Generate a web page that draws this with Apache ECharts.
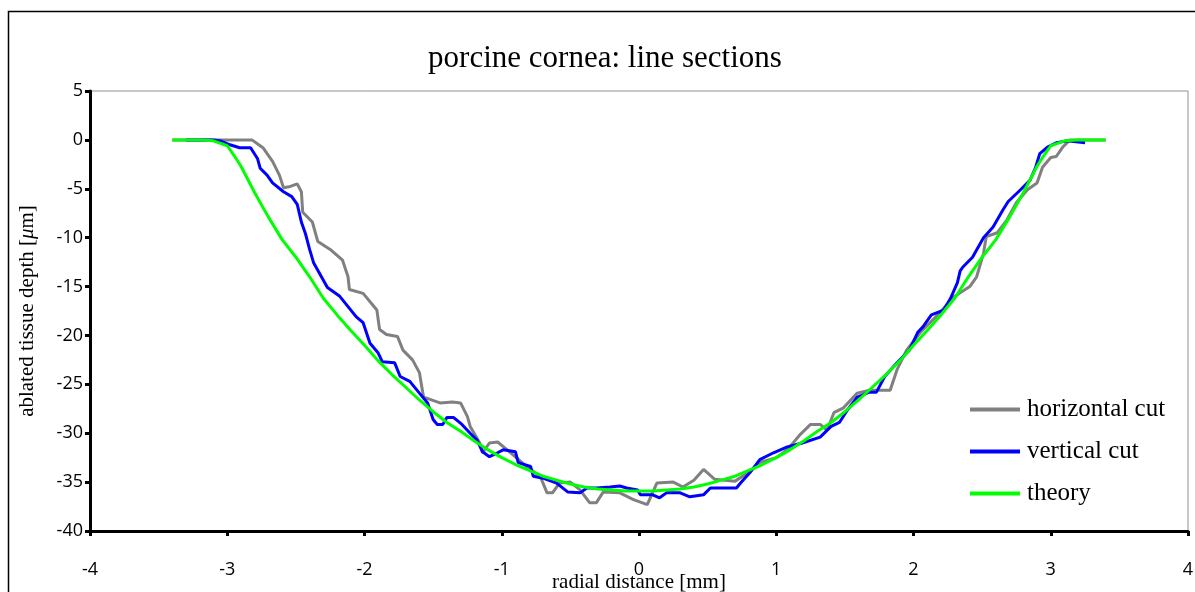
<!DOCTYPE html>
<html>
<head>
<meta charset="utf-8">
<script src="https://cdn.jsdelivr.net/npm/echarts@6/dist/echarts.min.js"></script>
<style>
html,body{margin:0;padding:0;background:#fff;}
#chart{width:1195px;height:592px;}
</style>
</head>
<body>
<div id="chart"></div>
<script>
// ---- data (radial distance in mm, ablated depth in µm) ----
const titleText = 'porcine cornea: line sections';
const seriesNames = ['horizontal cut', 'vertical cut', 'theory'];
const xTicks = [-4, -3, -2, -1, 0, 1, 2, 3, 4];
const yTicks = [5, 0, -5, -10, -15, -20, -25, -30, -35, -40];

const horizX = [-3.40,-2.82,-2.74,-2.67,-2.62,-2.59,-2.55,-2.49,-2.46,-2.45,-2.38,-2.34,-2.25,-2.16,-2.12,-2.11,-2.01,-1.91,-1.89,-1.84,-1.76,-1.72,-1.65,-1.60,-1.57,-1.45,-1.36,-1.30,-1.25,-1.23,-1.16,-1.14,-1.09,-1.03,-0.96,-0.82,-0.72,-0.67,-0.63,-0.58,-0.50,-0.43,-0.36,-0.31,-0.26,-0.14,-0.04,0.06,0.13,0.25,0.32,0.40,0.47,0.55,0.70,0.80,0.88,1.00,1.08,1.17,1.25,1.32,1.37,1.42,1.49,1.59,1.68,1.83,1.88,1.95,2.05,2.12,2.19,2.29,2.41,2.46,2.51,2.53,2.61,2.68,2.75,2.83,2.90,2.94,3.00,3.04,3.09,3.14,3.40];
const horizY = [0,0,-0.8,-2.2,-3.6,-4.9,-4.8,-4.5,-5.3,-7.4,-8.4,-10.4,-11.2,-12.3,-14.0,-15.3,-15.7,-17.4,-19.4,-19.9,-20.1,-21.5,-22.5,-23.8,-26.3,-26.9,-26.8,-26.9,-28.3,-29.3,-31.0,-32.0,-31.0,-30.9,-31.7,-33.4,-34.4,-36.1,-36.1,-35.1,-35.0,-35.8,-37.1,-37.1,-36.0,-36.1,-36.8,-37.3,-35.1,-35.0,-35.5,-34.8,-33.7,-34.7,-34.9,-34.0,-33.0,-32.5,-31.7,-30.2,-29.1,-29.1,-29.7,-27.9,-27.4,-25.9,-25.6,-25.6,-23.5,-21.5,-19.7,-18.7,-17.7,-16.1,-15.0,-14.0,-11.6,-9.9,-9.5,-8.2,-6.4,-5.1,-4.4,-2.8,-1.8,-1.7,-0.7,0,0];

const vertX = [-3.30,-3.10,-3.05,-2.98,-2.91,-2.83,-2.78,-2.76,-2.71,-2.67,-2.59,-2.53,-2.49,-2.46,-2.43,-2.40,-2.37,-2.27,-2.18,-2.06,-2.01,-1.96,-1.90,-1.87,-1.78,-1.74,-1.67,-1.60,-1.54,-1.50,-1.47,-1.43,-1.40,-1.35,-1.29,-1.23,-1.18,-1.14,-1.09,-1.03,-0.99,-0.90,-0.88,-0.79,-0.77,-0.70,-0.60,-0.52,-0.43,-0.38,-0.31,-0.21,-0.14,-0.09,-0.01,0.01,0.10,0.15,0.20,0.30,0.37,0.47,0.52,0.71,0.74,0.81,0.88,0.98,1.08,1.19,1.32,1.40,1.46,1.52,1.59,1.68,1.73,1.79,1.88,1.97,2.03,2.07,2.13,2.22,2.27,2.32,2.34,2.36,2.43,2.51,2.58,2.65,2.69,2.78,2.85,2.89,2.92,2.98,3.04,3.12,3.25];
const vertY = [0,0,-0.1,-0.5,-0.8,-0.8,-1.9,-2.9,-3.6,-4.4,-5.3,-5.8,-6.6,-8.4,-9.6,-11.2,-12.6,-15.1,-16.0,-18.1,-18.7,-20.8,-21.8,-22.7,-22.8,-24.2,-24.7,-25.9,-26.9,-28.6,-29.1,-29.1,-28.4,-28.4,-29.1,-30.0,-30.7,-31.9,-32.4,-32.0,-31.7,-31.9,-33.0,-33.4,-34.4,-34.6,-35.1,-36.0,-36.1,-35.6,-35.6,-35.5,-35.4,-35.6,-35.8,-36.3,-36.3,-36.6,-36.1,-36.1,-36.5,-36.3,-35.6,-35.6,-35.1,-34.0,-32.7,-32.0,-31.4,-31.0,-30.4,-29.3,-28.9,-27.6,-26.3,-25.8,-25.8,-24.2,-22.8,-21.5,-19.7,-19.1,-17.9,-17.4,-16.2,-14.6,-13.4,-13.0,-12.0,-10.0,-8.9,-7.2,-6.3,-5.1,-4.1,-2.8,-1.4,-0.7,-0.3,-0.1,-0.3];

const theoryX = [-3.40,-3.20,-3.10,-3.00,-2.95,-2.90,-2.80,-2.70,-2.60,-2.50,-2.40,-2.30,-2.20,-2.10,-2.00,-1.90,-1.80,-1.70,-1.60,-1.50,-1.40,-1.30,-1.20,-1.10,-1.00,-0.90,-0.80,-0.70,-0.60,-0.50,-0.40,-0.30,-0.20,-0.10,0.00,0.10,0.20,0.30,0.40,0.50,0.60,0.70,0.80,0.90,1.00,1.10,1.20,1.30,1.40,1.50,1.60,1.70,1.80,1.90,2.00,2.10,2.20,2.30,2.40,2.50,2.60,2.70,2.80,2.90,2.95,3.00,3.10,3.20,3.40];
const theoryY = [0,0,-0.1,-0.6,-1.6,-2.7,-5.4,-7.9,-10.2,-12.0,-14.0,-16.2,-17.9,-19.5,-21.0,-22.6,-24.0,-25.3,-26.6,-27.8,-28.9,-29.8,-30.8,-31.7,-32.5,-33.2,-33.8,-34.4,-34.8,-35.2,-35.5,-35.7,-35.8,-35.9,-35.9,-35.9,-35.8,-35.7,-35.5,-35.2,-34.8,-34.4,-33.8,-33.2,-32.5,-31.7,-30.8,-29.8,-28.9,-27.8,-26.6,-25.3,-24.0,-22.6,-21.0,-19.5,-17.9,-16.2,-14.0,-12.0,-10.2,-7.9,-5.4,-2.7,-1.6,-0.6,-0.1,0,0];

const colors = ['#808080', '#0000ff', '#00ff00'];

function zip(xs, ys) { return xs.map((x, i) => [x, ys[i]]); }

const serif = 'Liberation Serif';
const sans = 'Open Sans';

const chart = echarts.init(document.getElementById('chart'), null, {renderer: 'canvas'});
chart.setOption({
  backgroundColor: '#ffffff',
  animation: false,
  title: {
    text: titleText,
    left: 600,
    textAlign: 'center',
    top: 38,
    textStyle: {fontFamily: serif, fontSize: 31, fontWeight: 'normal', color: '#000'}
  },
  graphic: [{
    type: 'rect',
    shape: {x: 8.5, y: 11.5, width: 1200, height: 600},
    style: {fill: 'none', stroke: '#000', lineWidth: 1.5},
    silent: true, z: -1
  }],
  grid: {
    left: 90, top: 91, right: 7, bottom: 61,
    outerBoundsMode: 'none', containLabel: false,
    show: true, borderColor: '#909090', borderWidth: 1, backgroundColor: 'transparent'
  },
  legend: {
    orient: 'vertical',
    left: 965, top: 392,
    itemWidth: 50, itemHeight: 4, itemGap: 17,
    icon: 'rect',
    data: seriesNames,
    textStyle: {fontFamily: serif, fontSize: 25, color: '#000', lineHeight: 24, padding: [0,0,0,2]}
  },
  xAxis: {
    type: 'value', min: -4, max: 4, interval: 1,
    name: 'radial distance [mm]', nameLocation: 'middle', nameGap: 41, nameMoveOverlap: false,
    nameTextStyle: {fontFamily: serif, fontSize: 21, color: '#000', verticalAlign: 'top'},
    axisLine: {show: true, onZero: false, lineStyle: {color: '#000', width: 3}},
    axisTick: {show: true, length: 5, inside: false, lineStyle: {color: '#000', width: 3}},
    axisLabel: {margin: 30, fontFamily: sans, fontSize: 18, color: '#000',
      formatter: v => (xTicks.indexOf(v) >= 0 ? String(v) : '')},
    splitLine: {show: false}
  },
  yAxis: {
    type: 'value', min: -40, max: 5, interval: 5,
    name: 'ablated tissue depth [{i|μ}m]', nameLocation: 'middle', nameGap: 52, nameRotate: 90, nameMoveOverlap: false,
    nameTextStyle: {fontFamily: serif, fontSize: 21, color: '#000',
      rich: {i: {fontFamily: serif, fontSize: 21, fontStyle: 'italic', color: '#000'}}},
    axisLine: {show: true, onZero: false, lineStyle: {color: '#000', width: 3}},
    axisTick: {show: true, length: 5, inside: false, lineStyle: {color: '#000', width: 3}},
    axisLabel: {margin: 7, fontFamily: sans, fontSize: 18, color: '#000',
      formatter: v => (yTicks.indexOf(v) >= 0 ? String(v) : '')},
    splitLine: {show: false}
  },
  series: [
    {name: seriesNames[0], type: 'line', data: zip(horizX, horizY), showSymbol: false, symbol: 'none',
      lineStyle: {color: colors[0], width: 3}, itemStyle: {color: colors[0]}, z: 2},
    {name: seriesNames[1], type: 'line', data: zip(vertX, vertY), showSymbol: false, symbol: 'none',
      lineStyle: {color: colors[1], width: 3}, itemStyle: {color: colors[1]}, z: 3},
    {name: seriesNames[2], type: 'line', data: zip(theoryX, theoryY), showSymbol: false, symbol: 'none',
      lineStyle: {color: colors[2], width: 3}, itemStyle: {color: colors[2]}, z: 4}
  ]
});
</script>
</body>
</html>
